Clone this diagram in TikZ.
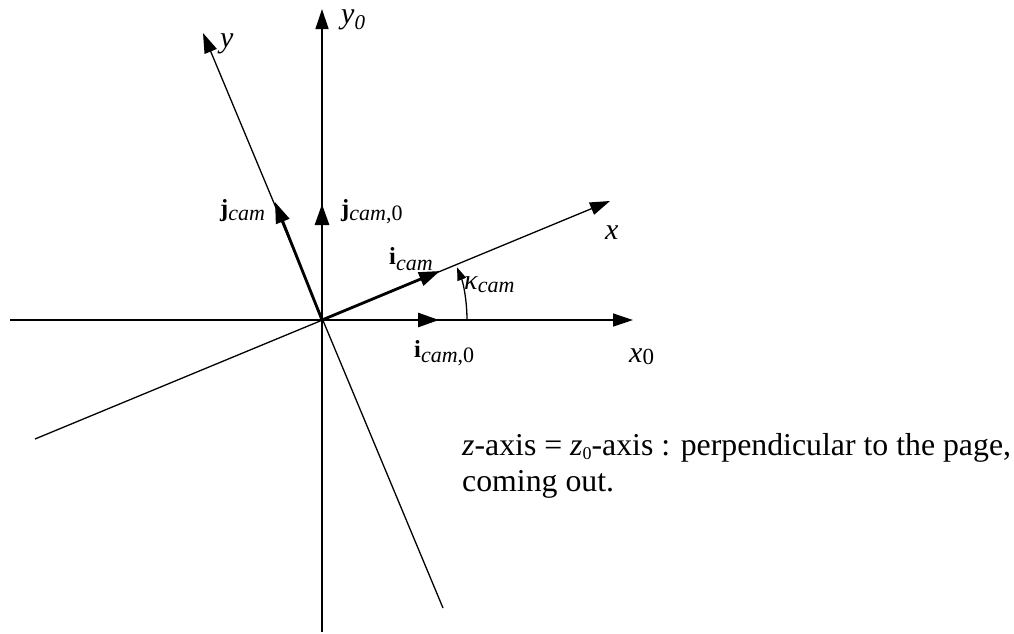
\documentclass[tikz,border=0pt]{standalone}
\usepackage{fontspec}
\setmainfont{Liberation Serif}
\usetikzlibrary{arrows.meta}
\newcommand\lowsub[2]{\raisebox{-#1pt}{\fontsize{22}{22}\selectfont #2}}
\begin{document}
\begin{tikzpicture}[x=1pt,y=-1pt,
  axis/.style={line width=1.3pt,-{Triangle[length=20pt,width=13pt]}},
  vecarrow/.style={line width=2.8pt,-{Triangle[length=21pt,width=14pt]}},
  arcarrow/.style={line width=1.3pt,-{Triangle[length=13pt,width=9pt]}},
  axlbl/.style={inner sep=0pt,anchor=base west,font=\fontsize{30}{30}\selectfont},
  veclbl/.style={inner sep=0pt,anchor=base west,font=\fontsize{24.5}{24.5}\selectfont},
  bodytext/.style={inner sep=0pt,anchor=base west,align=left,font=\fontsize{31.8}{36}\selectfont}]
\useasboundingbox (0,0) rectangle (1014,633);
% origin and axis end points
\coordinate (O) at (322,320);
\coordinate (x0l) at (10,320);
\coordinate (x0r) at (633,320);
\coordinate (y0b) at (322,632);
\coordinate (y0t) at (322,9);
\coordinate (xl) at (35,439);
\coordinate (xr) at (610,201);
\coordinate (yb) at (443,608);
\coordinate (yt) at (203,33);
% vector tips
\coordinate (ic0) at (439,320);
\coordinate (ic) at (440,271);
\coordinate (jc0) at (322,204);
\coordinate (jc) at (275,202);
% axes
\draw[axis] (x0l) -- (x0r);
\draw[axis] (y0b) -- (y0t);
\draw[axis] (xl) -- (xr);
\draw[axis] (yb) -- (yt);
% unit vectors
\draw[vecarrow] (O) -- (ic0);
\draw[vecarrow] (O) -- (ic);
\draw[vecarrow] (O) -- (jc0);
\draw[vecarrow] (O) -- (jc);
% kappa arc
\coordinate (arcstart) at (467,320);
\draw[arcarrow] (arcstart) arc[start angle=0,end angle=-21.3,radius=145];
% labels
\node[axlbl] (ly0) at (341,23.5) {\textit{y}\raisebox{-6pt}{\fontsize{21}{21}\selectfont\textit{0}}};
\node[axlbl] (ly) at (220,47) {\textit{y}};
\node[axlbl] (lx) at (605,239) {\textit{x}};
\node[axlbl] (lx0) at (629,362) {\textit{x}\raisebox{-2.5pt}{\fontsize{23}{23}\selectfont 0}};
\node[veclbl] (lic) at (389,264) {\textbf{i}\lowsub{6}{\textit{cam}}};
\node[veclbl] (lic0) at (414,357) {\textbf{i}\lowsub{5}{\textit{cam},0}};
\node[veclbl] (ljc) at (220,216.5) {\textbf{j}\lowsub{4}{\textit{cam}}};
\node[veclbl] (ljc0) at (341,216.5) {\textbf{j}\lowsub{4}{\textit{cam},0}};
\node[veclbl,font=\fontsize{28}{28}\selectfont] (lk) at (464,289) {\textit{κ}\lowsub{3}{\textit{cam}}};
\node[bodytext] (note) at (462,491) {\textit{z}-axis = \textit{z}\raisebox{-4pt}{\fontsize{18}{18}\selectfont 0}-axis : perpendicular to the page,\\coming out.};
\end{tikzpicture}
\end{document}
